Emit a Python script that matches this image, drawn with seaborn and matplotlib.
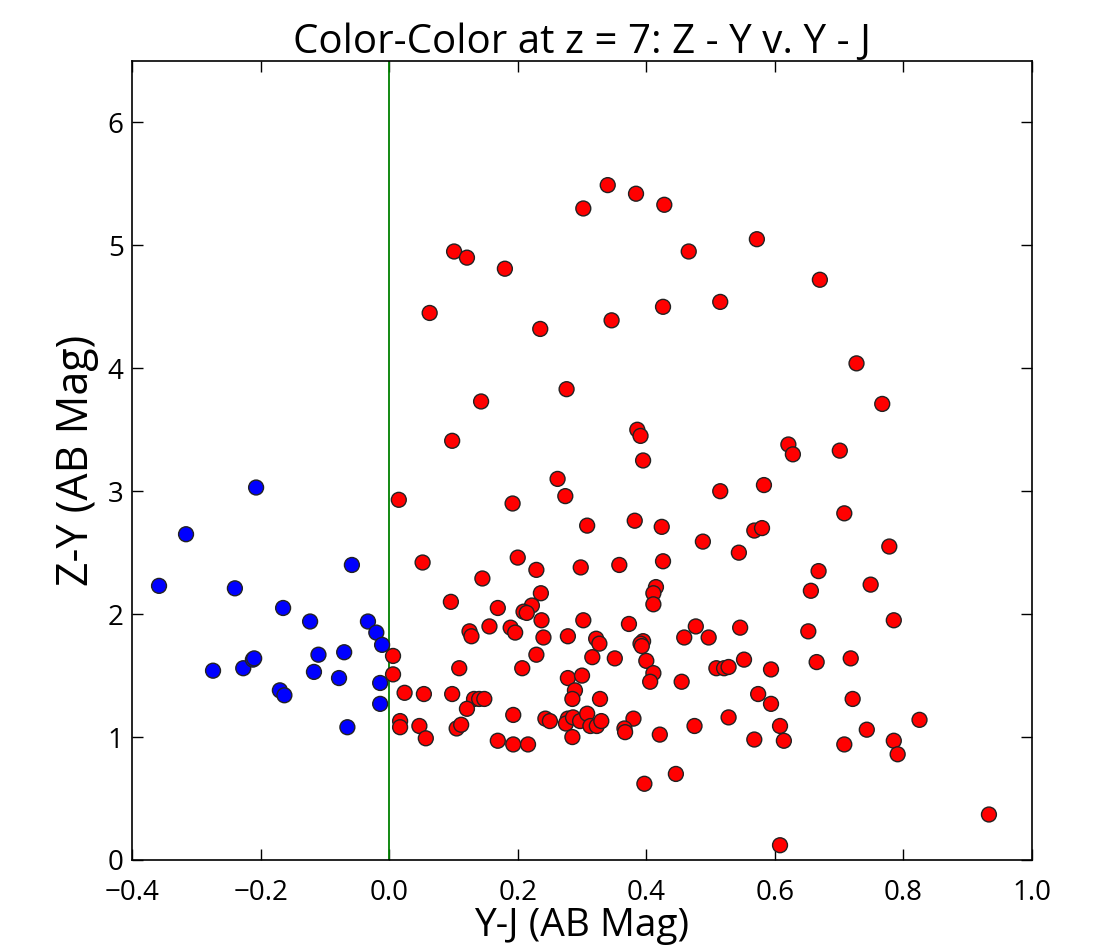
import matplotlib
matplotlib.use("Agg")
import matplotlib.pyplot as plt
import seaborn as sns
import pandas as pd

# Blue sources (Y-J < 0)
blue_yj = [-0.358, -0.316, -0.207, -0.240, -0.165, -0.058, -0.123, -0.033, -0.020, -0.011,
           -0.274, -0.227, -0.212, -0.210, -0.110, -0.117, -0.070, -0.078, -0.170, -0.163,
           -0.014, -0.014, -0.065]
blue_zy = [2.23, 2.65, 3.03, 2.21, 2.05, 2.40, 1.94, 1.94, 1.85, 1.75,
           1.54, 1.56, 1.63, 1.64, 1.67, 1.53, 1.69, 1.48, 1.38, 1.34,
           1.44, 1.27, 1.08]

# Red sources (Y-J >= 0)
red_yj = [0.015, 0.006, 0.006, 0.024, 0.017, 0.017, 0.192, 0.274, 0.308, 0.052,
          0.200, 0.229, 0.298, 0.145, 0.236, 0.096, 0.169, 0.222, 0.209, 0.214,
          0.237, 0.302, 0.156, 0.189, 0.196, 0.125, 0.128, 0.240, 0.278, 0.322,
          0.229, 0.316, 0.109, 0.207, 0.278, 0.300, 0.289, 0.285, 0.328, 0.054,
          0.098, 0.132, 0.140, 0.148, 0.121, 0.193, 0.243, 0.250, 0.278, 0.275,
          0.286, 0.297, 0.308, 0.313, 0.323, 0.285, 0.047, 0.057, 0.105, 0.112,
          0.169, 0.193, 0.216, 0.382, 0.424, 0.488, 0.544, 0.568, 0.580, 0.358,
          0.426, 0.415, 0.411, 0.411, 0.373, 0.477, 0.546, 0.459, 0.497, 0.327,
          0.395, 0.391, 0.393, 0.351, 0.400, 0.411, 0.406, 0.455, 0.509, 0.521,
          0.528, 0.552, 0.594, 0.574, 0.594, 0.380, 0.366, 0.367, 0.421, 0.475,
          0.528, 0.608, 0.568, 0.614, 0.397, 0.446, 0.608, 0.708, 0.778, 0.668,
          0.656, 0.749, 0.785, 0.652, 0.665, 0.718, 0.721, 0.743, 0.825, 0.708,
          0.785, 0.791, 0.933, 0.340, 0.384, 0.302, 0.428, 0.101, 0.121, 0.180,
          0.466, 0.063, 0.235, 0.346, 0.426, 0.276, 0.143, 0.098, 0.386, 0.391,
          0.395, 0.262, 0.572, 0.670, 0.515, 0.727, 0.767, 0.621, 0.628, 0.701,
          0.515, 0.583, 0.330]
red_zy = [2.93, 1.66, 1.51, 1.36, 1.13, 1.08, 2.90, 2.96, 2.72, 2.42,
          2.46, 2.36, 2.38, 2.29, 2.17, 2.10, 2.05, 2.07, 2.02, 2.01,
          1.95, 1.95, 1.90, 1.89, 1.85, 1.86, 1.82, 1.81, 1.82, 1.80,
          1.67, 1.65, 1.56, 1.56, 1.48, 1.50, 1.38, 1.31, 1.31, 1.35,
          1.35, 1.31, 1.31, 1.31, 1.23, 1.18, 1.15, 1.13, 1.15, 1.11,
          1.16, 1.13, 1.19, 1.09, 1.09, 1.00, 1.09, 0.99, 1.07, 1.10,
          0.97, 0.94, 0.94, 2.76, 2.71, 2.59, 2.50, 2.68, 2.70, 2.40,
          2.43, 2.22, 2.17, 2.08, 1.92, 1.90, 1.89, 1.81, 1.81, 1.76,
          1.78, 1.76, 1.74, 1.64, 1.62, 1.52, 1.45, 1.45, 1.56, 1.56,
          1.57, 1.63, 1.55, 1.35, 1.27, 1.15, 1.07, 1.04, 1.02, 1.09,
          1.16, 1.09, 0.98, 0.97, 0.62, 0.70, 0.12, 2.82, 2.55, 2.35,
          2.19, 2.24, 1.95, 1.86, 1.61, 1.64, 1.31, 1.06, 1.14, 0.94,
          0.97, 0.86, 0.37, 5.49, 5.42, 5.30, 5.33, 4.95, 4.90, 4.81,
          4.95, 4.45, 4.32, 4.39, 4.50, 3.83, 3.73, 3.41, 3.50, 3.45,
          3.25, 3.10, 5.05, 4.72, 4.54, 4.04, 3.71, 3.38, 3.30, 3.33,
          3.00, 3.05, 1.13]

x_ticks = [-0.4, -0.2, 0.0, 0.2, 0.4, 0.6, 0.8, 1.0]
x_tick_labels = ["\u22120.4", "\u22120.2", "0.0", "0.2", "0.4", "0.6", "0.8", "1.0"]
y_ticks = [0, 1, 2, 3, 4, 5, 6]

df = pd.DataFrame({
    "yj": blue_yj + red_yj,
    "zy": blue_zy + red_zy,
    "grp": ["blue"] * len(blue_yj) + ["red"] * len(red_yj),
})

sns.set_style("ticks")
plt.rcParams["font.family"] = ["Open Sans", "DejaVu Sans"]
plt.rcParams["text.color"] = "black"
plt.rcParams["axes.labelcolor"] = "black"
plt.rcParams["xtick.color"] = "black"
plt.rcParams["ytick.color"] = "black"

fig = plt.figure(figsize=(10.93, 9.51), dpi=100)
ax = fig.add_axes([0.1208, 0.0957, 0.8234, 0.8402])

sns.scatterplot(data=df, x="yj", y="zy", hue="grp",
                palette={"blue": "#0000ff", "red": "#ff0000"},
                s=115, edgecolor="#222222", linewidth=1.0, legend=False, ax=ax, zorder=3)

ax.axvline(0.0, color="green", linewidth=1.3, zorder=2)

ax.set_xlim(-0.4, 1.0)
ax.set_ylim(0, 6.5)
ax.set_xticks(x_ticks)
ax.set_yticks(y_ticks)
ax.set_xticklabels(x_tick_labels)
ax.tick_params(direction="in", length=8, width=1, top=True, right=True,
               labelsize=20, colors="black")
ax.tick_params(axis="x", pad=14)
ax.tick_params(axis="y", pad=6)
for lbl in ax.get_yticklabels():
    lbl.set_verticalalignment("center_baseline")
for sp in ax.spines.values():
    sp.set_visible(True)
    sp.set_linewidth(1.2)
    sp.set_color("black")

ax.set_xlabel("Y-J (AB Mag)", fontsize=28, labelpad=0, color="black")
ax.set_ylabel("Z-Y (AB Mag)", fontsize=31, labelpad=6, color="black")
ax.set_title("Color-Color at z = 7: Z - Y v. Y - J", fontsize=29, pad=6, color="black")

fig.savefig("out.png", dpi=100, facecolor="white")
